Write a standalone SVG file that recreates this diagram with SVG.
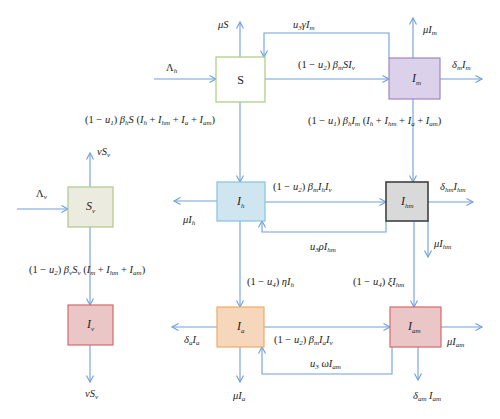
<svg xmlns="http://www.w3.org/2000/svg" width="500" height="419" viewBox="0 0 500 419">
<defs>
<marker id="ah" markerUnits="userSpaceOnUse" markerWidth="10" markerHeight="10" refX="7" refY="4" orient="auto">
<path d="M0.5,0.5 L7,4 L0.5,7.5" fill="none" stroke="#6f9fdc" stroke-width="1.1"/>
</marker>
<style>
.c{fill:none;stroke:#6f9fdc;stroke-width:1.1;marker-end:url(#ah)}
.l{fill:none;stroke:#6f9fdc;stroke-width:1.1}
text{font-family:"Liberation Serif","Times New Roman",serif;font-size:10.5px;fill:#222}
.i{font-style:italic}
.s{font-size:7px;font-style:italic}
.n{font-size:12px}
</style>
</defs>
<rect width="500" height="419" fill="#fff"/>
<g id="connectors">
<path class="c" d="M240,57 V22"/>
<path class="c" d="M154,79 H216"/>
<path class="c" d="M240,102 V182"/>
<path class="c" d="M389,58 V33 H264 V57"/>
<path class="c" d="M265,79 H389"/>
<path class="c" d="M413,58 V18"/>
<path class="c" d="M440,79 H482"/>
<path class="c" d="M413,99 V182"/>
<path class="c" d="M265,202 H386"/>
<path class="c" d="M386,221 V232 H262 V221"/>
<path class="c" d="M428,202 H473"/>
<path class="c" d="M428,221 V257"/>
<path class="c" d="M414,221 V307"/>
<path class="c" d="M217,201 H174"/>
<path class="c" d="M240,221 V307"/>
<path class="c" d="M264,327 H390"/>
<path class="c" d="M392,347 V374 H262 V347"/>
<path class="c" d="M441,327 H482"/>
<path class="c" d="M418,347 V380"/>
<path class="c" d="M217,327 H172"/>
<path class="c" d="M240,347 V382"/>
<path class="c" d="M90,187 V153"/>
<path class="c" d="M17,209 H68"/>
<path class="c" d="M90,227 V305"/>
<path class="c" d="M90,345 V382"/>
</g>
<g id="node-S">
<rect x="216" y="57" width="49" height="45" fill="#fff" stroke="#a9cc7c" stroke-width="1.2"/>
<text x="240.5" y="84" text-anchor="middle" class="n">S</text>
</g>
<g id="node-Im">
<rect x="389" y="58" width="51" height="41" fill="#dcd1ea" stroke="#9f86c4" stroke-width="1.2"/>
<text x="412" y="82" class="n i">I<tspan class="s" dy="3">m</tspan></text>
</g>
<g id="node-Ih">
<rect x="217" y="182" width="48" height="39" fill="#cfe5f0" stroke="#83c3de" stroke-width="1.2"/>
<text x="237" y="205" class="n i">I<tspan class="s" dy="3">h</tspan></text>
</g>
<g id="node-Ihm">
<rect x="386" y="182" width="42" height="39" fill="#d9d9d9" stroke="#404040" stroke-width="1.6"/>
<text x="401" y="205" class="n i">I<tspan class="s" dy="3">hm</tspan></text>
</g>
<g id="node-Ia">
<rect x="217" y="307" width="47" height="40" fill="#f6d7bb" stroke="#f0ab66" stroke-width="1.2"/>
<text x="237" y="330" class="n i">I<tspan class="s" dy="3">a</tspan></text>
</g>
<g id="node-Iam">
<rect x="390" y="307" width="51" height="40" fill="#ebc6c6" stroke="#d46a6a" stroke-width="1.2"/>
<text x="408" y="330" class="n i">I<tspan class="s" dy="3">am</tspan></text>
</g>
<g id="node-Sv">
<rect x="68" y="187" width="45" height="40" fill="#ecebe0" stroke="#aec888" stroke-width="1.2"/>
<text x="86" y="210" class="n i">S<tspan class="s" dy="3">v</tspan></text>
</g>
<g id="node-Iv">
<rect x="68" y="305" width="45" height="40" fill="#ebc6c6" stroke="#d46a6a" stroke-width="1.2"/>
<text x="87" y="328" class="n i">I<tspan class="s" dy="3">v</tspan></text>
</g>
<g id="labels">
<text x="218" y="28" class="i">μS</text>
<text x="166" y="71">Λ<tspan class="s" dy="2">h</tspan></text>
<text x="85" y="123">(1 − <tspan class="i">u</tspan><tspan class="s" dy="2">1</tspan><tspan dy="-2">) </tspan><tspan class="i">β</tspan><tspan class="s" dy="2">h</tspan><tspan dy="-2" class="i">S</tspan> (<tspan class="i">I</tspan><tspan class="s" dy="2">h</tspan><tspan dy="-2"> + </tspan><tspan class="i">I</tspan><tspan class="s" dy="2">hm</tspan><tspan dy="-2"> + </tspan><tspan class="i">I</tspan><tspan class="s" dy="2">a</tspan><tspan dy="-2"> + </tspan><tspan class="i">I</tspan><tspan class="s" dy="2">am</tspan><tspan dy="-2">)</tspan></text>
<text x="293" y="28" class="i">u<tspan class="s" dy="2">3</tspan><tspan dy="-2">γI</tspan><tspan class="s" dy="2">m</tspan></text>
<text x="298" y="68">(1 − <tspan class="i">u</tspan><tspan class="s" dy="2">2</tspan><tspan dy="-2">) </tspan><tspan class="i">β</tspan><tspan class="s" dy="2">m</tspan><tspan dy="-2" class="i">SI</tspan><tspan class="s" dy="2">v</tspan></text>
<text x="423" y="33" class="i">μI<tspan class="s" dy="2">m</tspan></text>
<text x="452" y="68" class="i">δ<tspan class="s" dy="2">m</tspan><tspan dy="-2">I</tspan><tspan class="s" dy="2">m</tspan></text>
<text x="308" y="124">(1 − <tspan class="i">u</tspan><tspan class="s" dy="2">1</tspan><tspan dy="-2">) </tspan><tspan class="i">β</tspan><tspan class="s" dy="2">h</tspan><tspan dy="-2" class="i">I</tspan><tspan class="s" dy="2">m</tspan><tspan dy="-2"> (</tspan><tspan class="i">I</tspan><tspan class="s" dy="2">h</tspan><tspan dy="-2"> + </tspan><tspan class="i">I</tspan><tspan class="s" dy="2">hm</tspan><tspan dy="-2"> + </tspan><tspan class="i">I</tspan><tspan class="s" dy="2">a</tspan><tspan dy="-2"> + </tspan><tspan class="i">I</tspan><tspan class="s" dy="2">am</tspan><tspan dy="-2">)</tspan></text>
<text x="273" y="190">(1 − <tspan class="i">u</tspan><tspan class="s" dy="2">2</tspan><tspan dy="-2">) </tspan><tspan class="i">β</tspan><tspan class="s" dy="2">m</tspan><tspan dy="-2" class="i">I</tspan><tspan class="s" dy="2">h</tspan><tspan dy="-2" class="i">I</tspan><tspan class="s" dy="2">v</tspan></text>
<text x="440" y="190" class="i">δ<tspan class="s" dy="2">hm</tspan><tspan dy="-2">I</tspan><tspan class="s" dy="2">hm</tspan></text>
<text x="310" y="250" class="i">u<tspan class="s" dy="2">3</tspan><tspan dy="-2">ρI</tspan><tspan class="s" dy="2">hm</tspan></text>
<text x="434" y="247" class="i">μI<tspan class="s" dy="2">hm</tspan></text>
<text x="247" y="285">(1 − <tspan class="i">u</tspan><tspan class="s" dy="2">4</tspan><tspan dy="-2">) </tspan><tspan class="i">ηI</tspan><tspan class="s" dy="2">h</tspan></text>
<text x="353" y="285">(1 − <tspan class="i">u</tspan><tspan class="s" dy="2">4</tspan><tspan dy="-2">) </tspan><tspan class="i">ξI</tspan><tspan class="s" dy="2">hm</tspan></text>
<text x="183" y="223" class="i">μI<tspan class="s" dy="2">h</tspan></text>
<text x="274" y="343">(1 − <tspan class="i">u</tspan><tspan class="s" dy="2">2</tspan><tspan dy="-2">) </tspan><tspan class="i">β</tspan><tspan class="s" dy="2">m</tspan><tspan dy="-2" class="i">I</tspan><tspan class="s" dy="2">a</tspan><tspan dy="-2" class="i">I</tspan><tspan class="s" dy="2">v</tspan></text>
<text x="310" y="367" class="i">u<tspan class="s" dy="2">3</tspan><tspan dy="-2"> ωI</tspan><tspan class="s" dy="2">am</tspan></text>
<text x="447" y="345" class="i">μI<tspan class="s" dy="2">am</tspan></text>
<text x="413" y="399" class="i">δ<tspan class="s" dy="2">am</tspan><tspan dy="-2"> I</tspan><tspan class="s" dy="2">am</tspan></text>
<text x="184" y="343" class="i">δ<tspan class="s" dy="2">a</tspan><tspan dy="-2">I</tspan><tspan class="s" dy="2">a</tspan></text>
<text x="233" y="399" class="i">μI<tspan class="s" dy="2">a</tspan></text>
<text x="97" y="155" class="i">νS<tspan class="s" dy="2">v</tspan></text>
<text x="36" y="197">Λ<tspan class="s" dy="2">v</tspan></text>
<text x="29" y="273">(1 − <tspan class="i">u</tspan><tspan class="s" dy="2">2</tspan><tspan dy="-2">) </tspan><tspan class="i">β</tspan><tspan class="s" dy="2">v</tspan><tspan dy="-2" class="i">S</tspan><tspan class="s" dy="2">v</tspan><tspan dy="-2"> (</tspan><tspan class="i">I</tspan><tspan class="s" dy="2">m</tspan><tspan dy="-2"> + </tspan><tspan class="i">I</tspan><tspan class="s" dy="2">hm</tspan><tspan dy="-2"> + </tspan><tspan class="i">I</tspan><tspan class="s" dy="2">am</tspan><tspan dy="-2">)</tspan></text>
<text x="85" y="397" class="i">νS<tspan class="s" dy="2">v</tspan></text>
</g>
</svg>
